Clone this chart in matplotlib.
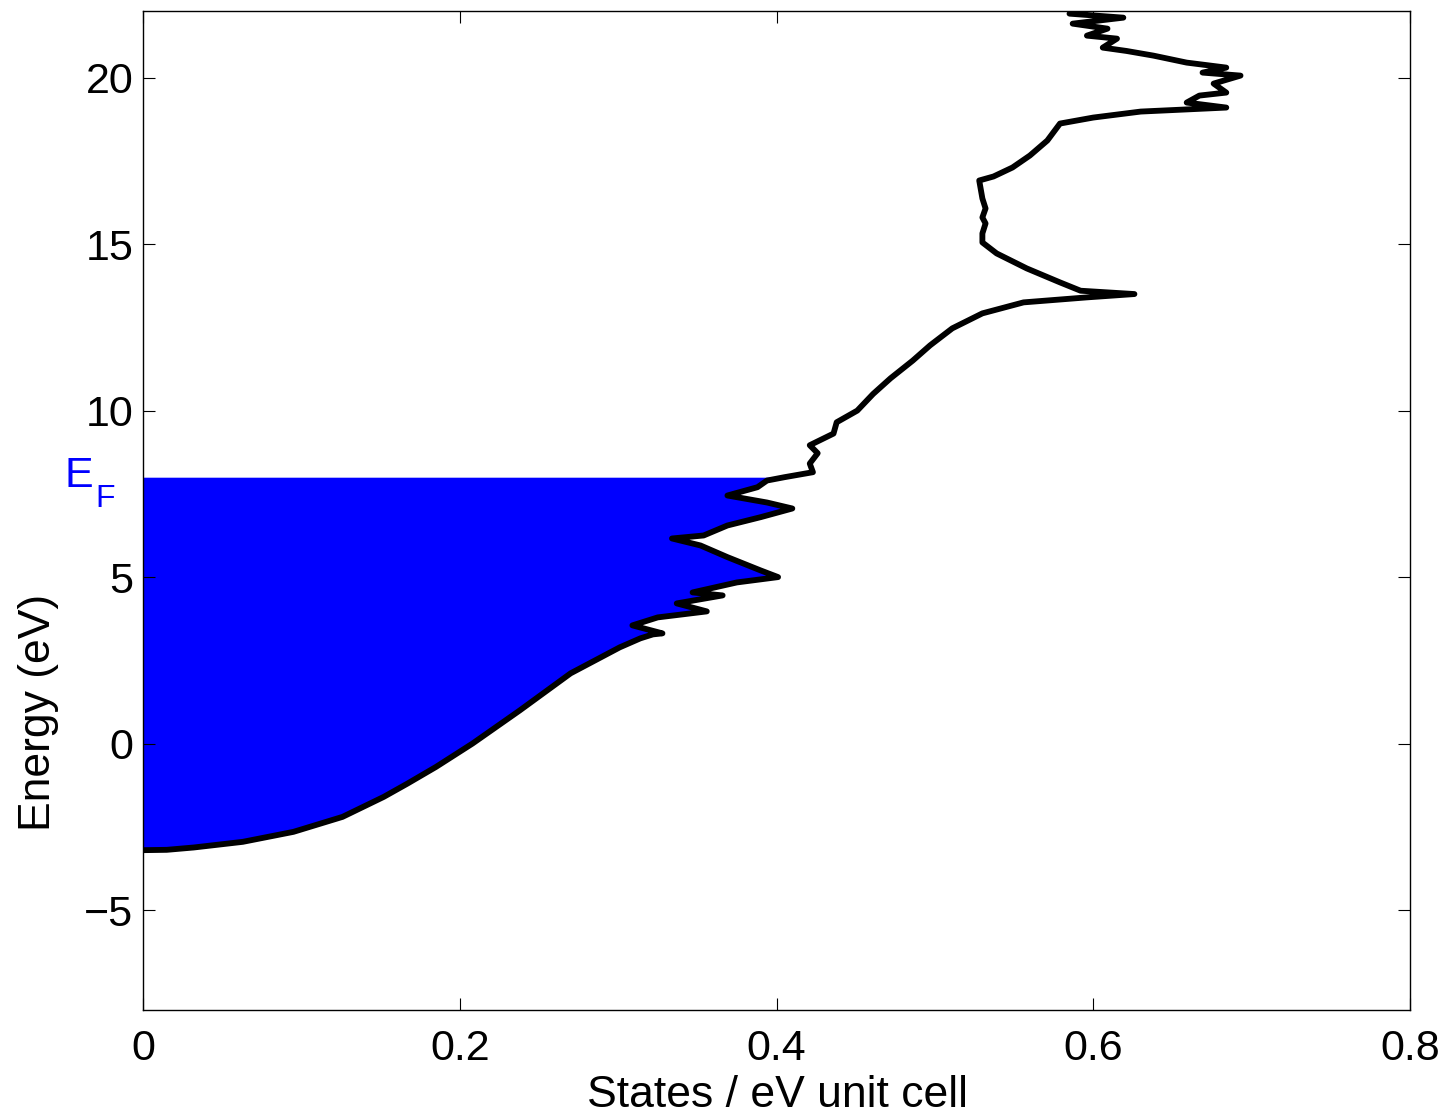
import matplotlib
matplotlib.use("Agg")
import matplotlib.pyplot as plt
import numpy as np

plt.rcParams['font.family'] = ['Liberation Sans', 'DejaVu Sans']

# Density of states (states / eV unit cell) versus energy (eV)
energy = [-3.20, -3.19, -3.12, -2.95, -2.65, -2.20, -1.60, -1.20, -0.70, 0.00,
          1.00, 2.11, 2.89, 3.16, 3.28, 3.31, 3.55, 3.79, 3.97, 4.21,
          4.45, 4.54, 4.84, 5.00, 5.20, 5.60, 5.95, 6.16, 6.25, 6.55,
          6.80, 7.06, 7.24, 7.45, 7.70, 7.90, 8.00, 8.15, 8.41, 8.72,
          8.96, 9.31, 9.65, 10.00, 10.50, 10.97, 11.50, 11.96, 12.47, 12.92,
          13.25, 13.40, 13.50, 13.60, 13.85, 14.27, 14.72, 15.05, 15.32, 15.62,
          15.80, 16.07, 16.37, 16.91, 17.03, 17.30, 17.66, 18.11, 18.62, 18.80,
          18.98, 19.10, 19.25, 19.46, 19.55, 19.82, 20.06, 20.15, 20.30, 20.45,
          20.66, 20.80, 20.90, 21.17, 21.26, 21.47, 21.62, 21.80, 21.92, 22.10]
dos = [0.000, 0.015, 0.032, 0.063, 0.095, 0.126, 0.152, 0.167, 0.185, 0.208,
       0.238, 0.270, 0.301, 0.314, 0.322, 0.328, 0.309, 0.325, 0.356, 0.337,
       0.366, 0.347, 0.375, 0.401, 0.390, 0.369, 0.352, 0.334, 0.354, 0.369,
       0.390, 0.410, 0.394, 0.369, 0.388, 0.394, 0.405, 0.423, 0.421, 0.426,
       0.421, 0.436, 0.438, 0.451, 0.461, 0.472, 0.486, 0.497, 0.511, 0.530,
       0.556, 0.596, 0.626, 0.592, 0.579, 0.558, 0.539, 0.530, 0.530, 0.532,
       0.530, 0.532, 0.530, 0.528, 0.537, 0.549, 0.560, 0.571, 0.579, 0.600,
       0.630, 0.684, 0.659, 0.667, 0.684, 0.676, 0.693, 0.669, 0.684, 0.659,
       0.638, 0.621, 0.606, 0.615, 0.596, 0.609, 0.587, 0.619, 0.585, 0.600]
fermi_level = 8.0

x_ticks = [0, 0.2, 0.4, 0.6, 0.8]
x_tick_labels = ['0', '0.2', '0.4', '0.6', '0.8']
y_ticks = [-5, 0, 5, 10, 15, 20]
y_tick_labels = ['\u22125', '0', '5', '10', '15', '20']

W, H = 1449, 1115
fig = plt.figure(figsize=(W / 100, H / 100), dpi=100)
ax = fig.add_axes([143 / W, 1 - 1010 / H, (1410 - 143) / W, (1010 - 11) / H])

e = np.array(energy)
d = np.array(dos)
occ = e <= fermi_level
ax.fill_betweenx(e[occ], 0, d[occ], color='#0000ff', linewidth=0, zorder=1)
ax.plot(d, e, color='black', linewidth=4.2, solid_joinstyle='round',
        solid_capstyle='round', zorder=2)

ax.set_xlim(0, 0.8)
ax.set_ylim(-8, 22)
ax.set_xticks(x_ticks)
ax.set_xticklabels(x_tick_labels)
ax.set_yticks(y_ticks)
ax.set_yticklabels(y_tick_labels)
ax.tick_params(direction='in', length=8.5, width=0.8, labelsize=31,
               top=True, right=True)
ax.tick_params(axis='y', pad=7)
ax.tick_params(axis='x', pad=14)
for s in ax.spines.values():
    s.set_linewidth(1.0)


def px(x, y):
    return x / W, 1 - y / H


fig.text(*px(777, 1107), 'States / eV unit cell', fontsize=32,
         ha='center', va='baseline')
fig.text(*px(39, 712), 'Energy (eV)', fontsize=32, rotation=90,
         ha='center', va='center')
fig.text(*px(64, 487), 'E', fontsize=31, color='#0000ff',
         ha='left', va='baseline')
fig.text(*px(95, 507), 'F', fontsize=23, color='#0000ff',
         ha='left', va='baseline')

fig.savefig('out.png', dpi=100)
